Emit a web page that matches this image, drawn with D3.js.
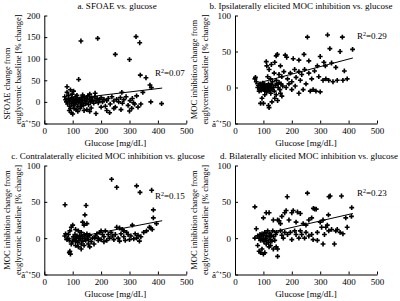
<!DOCTYPE html>
<html>

<head>
    <title>Glucose scatter panels</title>
    <script src="https://d3js.org/d3.v7.min.js"></script>
    <style>
        body { margin: 0; background: #fff; }
        text { font-family: "Liberation Serif", "Times New Roman", serif; fill: #000; }
    </style>
</head>

<body>

    <svg width="400" height="301" id="mainSvg"></svg>
    <script>
        // tick labels
        const glucoseTicks = [0, 100, 200, 300, 400, 500];
        const sfoaeTicks = [-50, 0, 50, 100, 150, 200];
        const mocTicks = [-50, 0, 50, 100];

        // [glucose mg/dL, % change]
        const sfoaePoints = [
            [129, 141], [188, 147], [323, 151], [336, 137], [250, 110], [300, 98], [121, 52], [338, 62],
            [358, 56], [372, 39], [377, 33], [80, 35], [92, 28], [103, 25], [80, 22], [179, 20], [273, 22],
            [347, 22], [413, -4], [375, 0], [340, -5], [300, -21], [308, -15], [314, -2], [230, -25], [182, -27],
            [95, -25], [88, -20], [100, -28], [112, -18], [126, -15], [140, -20], [150, -18], [165, -14],
            [72, 12], [75, 5], [78, 0], [82, -5], [85, 8], [88, 2], [90, -10], [93, 5], [95, -3], [97, 10],
            [100, 0], [102, -8], [104, 6], [106, 2], [108, -4], [110, 12], [112, -2], [114, 4], [116, 8],
            [118, -10], [120, 0], [122, 6], [125, 2], [128, -5], [130, 10], [132, -1], [135, 4], [138, -8],
            [140, 12], [143, 3], [146, -4], [148, 8], [150, 2], [153, 14], [156, -6], [160, 6], [163, 0],
            [166, 10], [170, 4], [174, -3], [178, 12], [182, 2], [186, 8], [190, -2], [195, 5], [200, 10],
            [205, 0], [210, 6], [215, -10], [220, 3], [225, 8], [232, -5], [238, 12], [245, 2], [250, -12],
            [255, 6], [262, 0], [268, 10], [275, -3], [280, 5], [288, 12], [295, -8], [302, 3], [310, 8],
            [318, -5], [325, 14], [85, 15], [98, 18], [115, 15], [135, 16], [160, 18], [105, -15], [118, -22],
            [92, -15], [245, -15], [200, -12], [270, -18], [220, -20], [330, -12], [160, -22], [130, -10]
        ];
        const ipsiPoints = [
            [255, 70], [326, 73], [378, 70], [414, 53], [334, 54], [370, 50], [243, 46], [313, 35], [340, 34],
            [149, 46], [145, 44], [177, 45], [182, 42], [205, 40], [225, 38], [260, 37], [290, 30], [300, 43],
            [318, 30], [355, 28], [385, 23], [110, 36], [112, 30], [120, 25], [128, 32], [140, 35], [160, 30],
            [172, 22], [195, 20], [210, 25], [225, 22], [235, 18], [245, 25], [260, 20], [270, 12], [280, 23],
            [295, 15], [310, 10], [320, 12], [330, 10], [345, 8], [360, 10], [380, 10], [395, 12], [165, 15],
            [185, 12], [200, 8], [215, 14], [230, 10], [250, 5], [265, -5], [240, -3], [285, -5], [300, -6],
            [275, -3], [200, -3], [180, 0], [160, -8], [150, -18], [140, -15], [165, -12], [130, -20],
            [120, -28], [118, -25], [100, -22], [90, -22], [95, -15], [105, -10], [85, -5], [80, 0], [72, 14],
            [70, 12], [75, 8], [82, 3], [86, -2], [88, 5], [90, 0], [92, -4], [94, 3], [96, -1], [98, 6],
            [100, 2], [101, -3], [102, 0], [104, 4], [105, -5], [107, 1], [108, -2], [110, 3], [112, -6],
            [113, 0], [115, 2], [117, -3], [118, 5], [120, 0], [122, -4], [124, 2], [126, -8], [128, 4],
            [130, -2], [132, 8], [135, 0], [138, -5], [142, 3], [145, -10], [148, 5], [152, 0], [155, 7],
            [158, -3], [162, 5], [168, 2], [190, 5], [212, 2], [225, -8], [145, 10], [138, 20], [155, 18],
            [125, 12], [115, 15]
        ];
        const contraPoints = [
            [237, 81], [255, 70], [325, 72], [337, 63], [378, 66], [73, 46], [147, 45], [143, 32], [384, 39],
            [384, 28], [135, 22], [150, 20], [140, 18], [95, 15], [100, 18], [110, 12], [120, 10], [130, 8],
            [90, 10], [85, 5], [75, 6], [72, 3], [80, -2], [82, 0], [88, -3], [90, -18], [92, -22], [88, -20],
            [95, -8], [100, -5], [102, 2], [105, -2], [108, 5], [110, -4], [112, 0], [115, 3], [118, -6],
            [120, 1], [122, -3], [125, 4], [128, -1], [130, -8], [133, 2], [136, -4], [140, 5], [143, 0],
            [146, -3], [150, 6], [153, 2], [156, -2], [160, 4], [165, -5], [170, 0], [175, -8], [180, 3],
            [185, 6], [190, 0], [195, 8], [200, -2], [205, 5], [210, 2], [215, 10], [220, -3], [225, 5],
            [230, 0], [235, 8], [240, 3], [245, -2], [250, 5], [255, 15], [260, 0], [265, -4], [270, 6],
            [275, 12], [280, 2], [285, -3], [290, 8], [295, 5], [300, -2], [305, 3], [310, 18], [315, -1],
            [320, 6], [325, 0], [330, 4], [335, -4], [340, 2], [120, -12], [130, -15], [140, -10], [160, -12],
            [110, -10], [375, 14], [380, 12], [350, 8], [360, 10], [370, 15], [395, 20], [200, 10], [210, -5],
            [280, 10], [265, 14], [190, -3], [178, 0], [155, -8]
        ];
        const bilatPoints = [
            [255, 62], [184, 57], [331, 57], [335, 58], [375, 58], [411, 42], [70, 43], [276, 41], [281, 40],
            [286, 40], [329, 32], [390, 28], [200, 35], [205, 38], [220, 36], [230, 34], [180, 38], [175, 35],
            [120, 35], [110, 35], [100, 28], [150, 25], [155, 24], [190, 25], [215, 22], [240, 20], [250, 18],
            [270, 28], [260, 25], [300, 22], [310, 25], [320, 15], [330, 10], [340, 12], [355, 10], [370, 8],
            [350, -8], [310, -8], [290, -3], [270, 5], [250, 8], [235, 5], [225, 0], [210, 10], [195, 8],
            [175, 8], [165, 4], [150, -15], [150, -25], [145, -12], [135, -15], [125, -10], [120, -12],
            [110, -8], [105, -20], [100, -22], [95, -15], [90, -20], [85, -18], [80, -10], [70, 0], [75, 13],
            [80, 3], [85, 0], [88, 5], [90, -3], [92, 2], [95, 6], [98, -2], [100, 3], [102, -5], [105, 8],
            [108, 0], [110, 4], [112, -3], [115, 10], [118, -6], [120, 2], [122, 6], [125, -2], [128, 4],
            [130, -4], [133, 10], [136, 2], [140, -3], [143, 5], [146, 8], [160, 10], [170, 0], [185, 5],
            [200, -2], [215, 5], [230, 10], [245, 0], [260, 3], [275, -2], [290, 8], [305, 15], [315, 5],
            [325, 18], [360, 12], [380, 6], [410, 30], [395, 15], [135, 25], [160, 20], [165, 30]
        ];

        // fitted line end points [glucose, % change]
        const sfoaeFit = [[70, 5], [415, 32]];
        const ipsiFit = [[70, 5], [415, 41]];
        const contraFit = [[70, -2], [415, 24]];
        const bilatFit = [[70, 3], [415, 34]];

        const titles = [
            "a. SFOAE vs. glucose",
            "b. Ipsilaterally elicited MOC inhibition vs. glucose",
            "c. Contralaterally elicited MOC inhibition vs. glucose",
            "d. Bilaterally elicited MOC inhibition vs. glucose"
        ];
        const yLabelTops = ["SFOAE change from", "MOC inhibition change from", "MOC inhibition change from", "MOC inhibition change from"];
        const yLabelBottom = "euglycemic baseline [% change]";
        const xLabel = "Glucose [mg/dL]";
        const r2Values = ["0.07", "0.29", "0.15", "0.23"];

        const mainSvg = d3.select("#mainSvg");
        const serif = "Liberation Serif";

        const panels = [
            { points: sfoaePoints, fit: sfoaeFit, ticks: sfoaeTicks, left: 44.3, right: 186.3, top: 15.5, bottom: 123.5, titleX: 117, titleY: 9, yl: [9.5, 20.5], ylShift: 14, r2: [155, 76] },
            { points: ipsiPoints, fit: ipsiFit, ticks: mocTicks, left: 235, right: 377, top: 15.5, bottom: 123.5, titleX: 301, titleY: 9, yl: [197, 208], ylShift: 0, r2: [357, 39] },
            { points: contraPoints, fit: contraFit, ticks: mocTicks, left: 44.3, right: 186.3, top: 165.5, bottom: 274.5, titleX: 108, titleY: 159, yl: [9.5, 20.5], ylShift: 0, r2: [155, 199] },
            { points: bilatPoints, fit: bilatFit, ticks: mocTicks, left: 235, right: 377, top: 165.5, bottom: 274.5, titleX: 309, titleY: 159, yl: [197, 208], ylShift: 0, r2: [357, 196] }
        ];

        const marker = d3.symbol().type(d3.symbolCross).size(13);

        const renderPanel = function (p, i) {
            const x = d3.scaleLinear().domain([0, 500]).range([p.left, p.right]);
            const y = d3.scaleLinear().domain(d3.extent(p.ticks)).range([p.bottom, p.top]);
            const g = mainSvg.append("g").attr("class", "panel");

            g.append("g")
                .attr("transform", `translate(0, ${p.bottom})`)
                .call(d3.axisBottom(x).tickValues(glucoseTicks).tickSizeInner(-3).tickSizeOuter(0).tickPadding(4))
                .attr("font-family", serif).attr("font-size", 9);

            g.append("g")
                .attr("transform", `translate(${p.left}, 0)`)
                .call(d3.axisLeft(y).tickValues(p.ticks).tickSizeInner(-3).tickSizeOuter(0).tickPadding(4))
                .attr("font-family", serif).attr("font-size", 9);

            g.selectAll(".domain, .tick line").attr("stroke", "#000").attr("stroke-width", 1);

            g.selectAll(".dot").data(p.points).join("path")
                .attr("class", "dot")
                .attr("d", marker)
                .attr("fill", "#000")
                .attr("transform", d => `translate(${x(d[0])}, ${y(d[1])})`);

            g.append("path")
                .attr("d", d3.line().x(d => x(d[0])).y(d => y(d[1]))(p.fit))
                .attr("fill", "none")
                .attr("stroke", "#000")
                .attr("stroke-width", 1);

            const r2 = g.append("text")
                .attr("x", p.r2[0]).attr("y", p.r2[1])
                .attr("font-size", 9);
            r2.append("tspan").text("R");
            r2.append("tspan").attr("font-size", 6).attr("dy", -3.5).text("2");
            r2.append("tspan").attr("dy", 3.5).text("=" + r2Values[i]);

            g.append("text")
                .attr("x", p.titleX).attr("y", p.titleY)
                .attr("text-anchor", "middle")
                .attr("font-size", 9)
                .text(titles[i]);

            g.append("text")
                .attr("x", (p.left + p.right) / 2).attr("y", p.bottom + 22.5)
                .attr("text-anchor", "middle")
                .attr("font-size", 9)
                .text(xLabel);

            const yc = (p.top + p.bottom) / 2;
            g.append("text")
                .attr("transform", `translate(${p.yl[0]}, ${yc + p.ylShift}) rotate(-90)`)
                .attr("text-anchor", "middle")
                .attr("font-size", 8.5)
                .text(yLabelTops[i]);
            g.append("text")
                .attr("transform", `translate(${p.yl[1]}, ${yc}) rotate(-90)`)
                .attr("text-anchor", "middle")
                .attr("font-size", 8.5)
                .text(yLabelBottom);
        }

        panels.forEach(renderPanel);
    </script>
</body>

</html>
